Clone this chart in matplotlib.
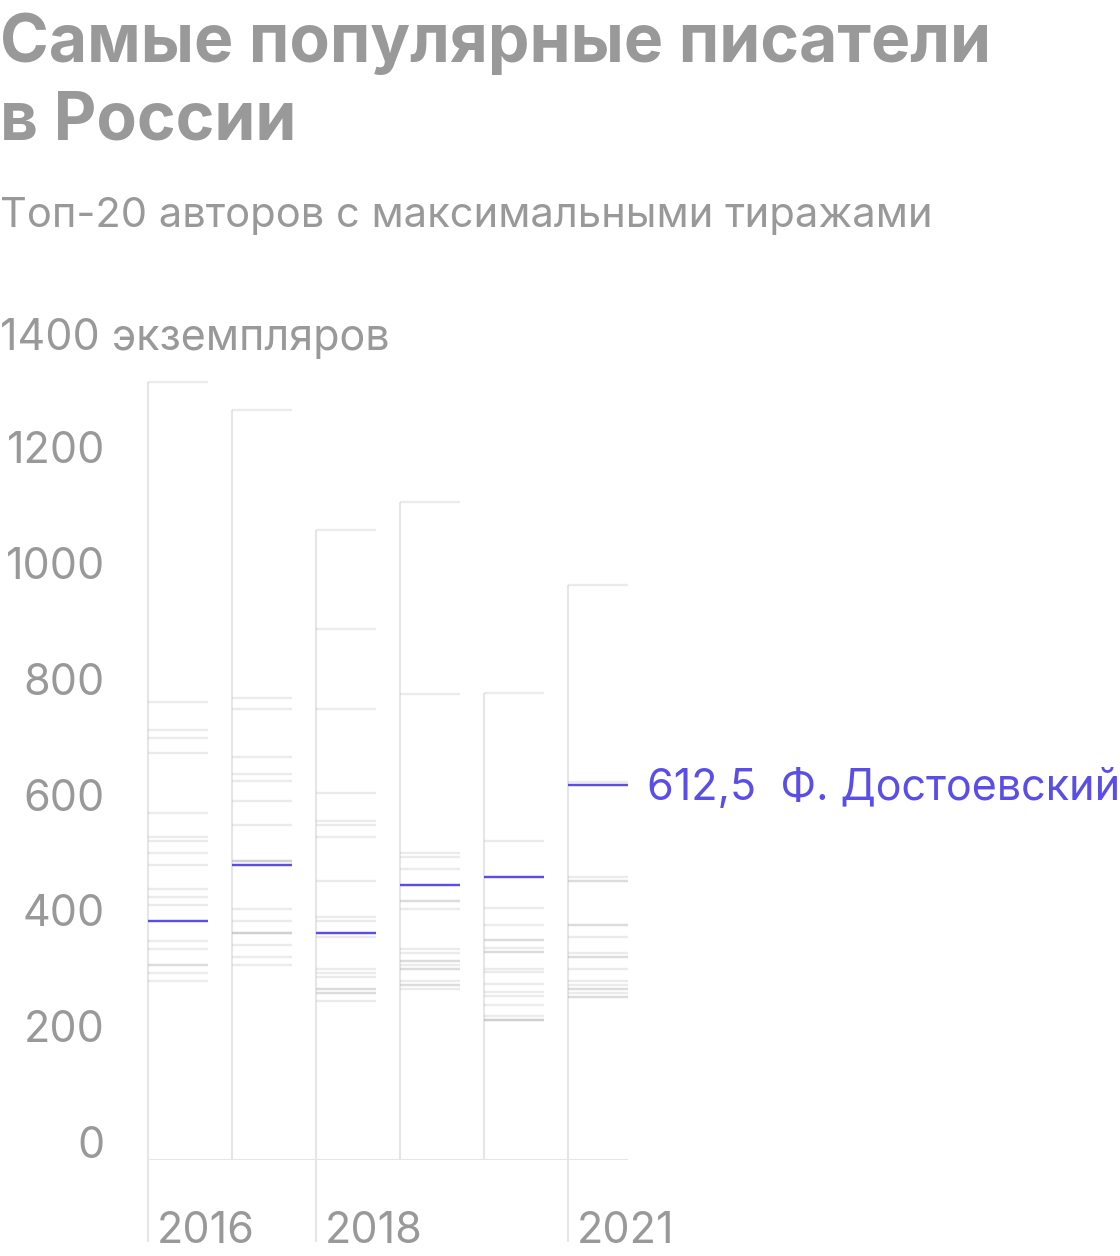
import matplotlib
matplotlib.use("Agg")
import matplotlib.pyplot as plt

plt.rcParams["font.family"] = ["Inter", "DejaVu Sans"]

years = ["2016", "2017", "2018", "2019", "2020", "2021"]
year_labels = ["2016", "", "2018", "", "", "2021"]

# тиражи топ-20 авторов, тыс. экземпляров (без Достоевского)
others = [
    [1310, 757, 709, 695, 668, 564, 523, 516, 495, 475, 433, 419, 406, 344, 330, 302, 302, 289, 275],
    [1261, 764, 744, 661, 633, 620, 585, 544, 482, 482, 482, 399, 378, 357, 357, 357, 337, 316, 302],
    [1054, 882, 744, 599, 551, 544, 523, 447, 385, 378, 351, 295, 289, 282, 261, 261, 254, 254, 240],
    [1102, 771, 495, 488, 468, 413, 413, 399, 330, 323, 309, 309, 302, 295, 295, 275, 268, 268, 261],
    [772, 517, 400, 372, 345, 345, 331, 324, 324, 296, 290, 269, 255, 248, 234, 214, 207, 207, 207],
    [958, 619, 454, 447, 447, 371, 371, 350, 323, 316, 316, 295, 275, 268, 261, 261, 254, 247, 247],
]
dostoevsky = [378, 475, 357, 440, 455, 612.5]
note = "612,5  Ф. Достоевский"

yticks = [0, 200, 400, 600, 800, 1000, 1200]

GRAY_TEXT = "#999999"
LINE = "#e6e6e6"
PURPLE = "#5b4de8"

W, H = 1120, 1256
fig = plt.figure(figsize=(W / 100, H / 100), dpi=100)

# оси: колонка = 84 px, отрезок = 60 px
col_w = 84
seg = 60 / col_w
ymin, ymax = -34.5, 1400
ax = fig.add_axes([148 / W, (H - 1160) / H, 480 / W, (1160 - 329.4) / H])
ax.set_xlim(0, 480 / col_w)
ax.set_ylim(ymin, ymax)
ax.axis("off")

lw_seg = 2.4 * 72 / 100
for i, vals in enumerate(others):
    top = max(vals + [dostoevsky[i]])
    bottom = -176 if year_labels[i] else ymin
    ax.vlines(i, bottom, top, color=LINE, lw=1.5, clip_on=False, zorder=1)
    ax.hlines(vals, i, i + seg, color="#a8a8a8", alpha=0.22, lw=lw_seg, zorder=2)
    ax.hlines(dostoevsky[i], i, i + seg, color=PURPLE, lw=lw_seg, zorder=3)
    if year_labels[i]:
        ax.text(i + 9 / col_w, -177, year_labels[i], fontsize=31, color=GRAY_TEXT,
                ha="left", va="baseline", clip_on=False)

ax.hlines(ymin, 0, 480 / col_w, color=LINE, lw=1.5, zorder=1)

# подпись Достоевского
last = len(years) - 1
ax.text(last + 79 / col_w, dostoevsky[last] - 26, note, fontsize=31, color=PURPLE,
        ha="left", va="baseline", clip_on=False)

# шкала слева
for t in yticks:
    ax.text(-43 / col_w, t - 31, str(t), fontsize=31, color=GRAY_TEXT,
            ha="right", va="baseline", clip_on=False)
ax.text(-148 / col_w, 1364, "1400 экземпляров", fontsize=31, color=GRAY_TEXT,
        ha="left", va="baseline", clip_on=False)

fig.text(0, 1 - 62 / H, "Самые популярные писатели", fontsize=47.5, fontweight="bold",
         color=GRAY_TEXT, ha="left", va="baseline")
fig.text(0, 1 - 140 / H, "в России", fontsize=47.5, fontweight="bold",
         color=GRAY_TEXT, ha="left", va="baseline")
fig.text(0, 1 - 227 / H, "Топ-20 авторов с максимальными тиражами", fontsize=30,
         color=GRAY_TEXT, ha="left", va="baseline")

fig.savefig("out.png", dpi=100)
